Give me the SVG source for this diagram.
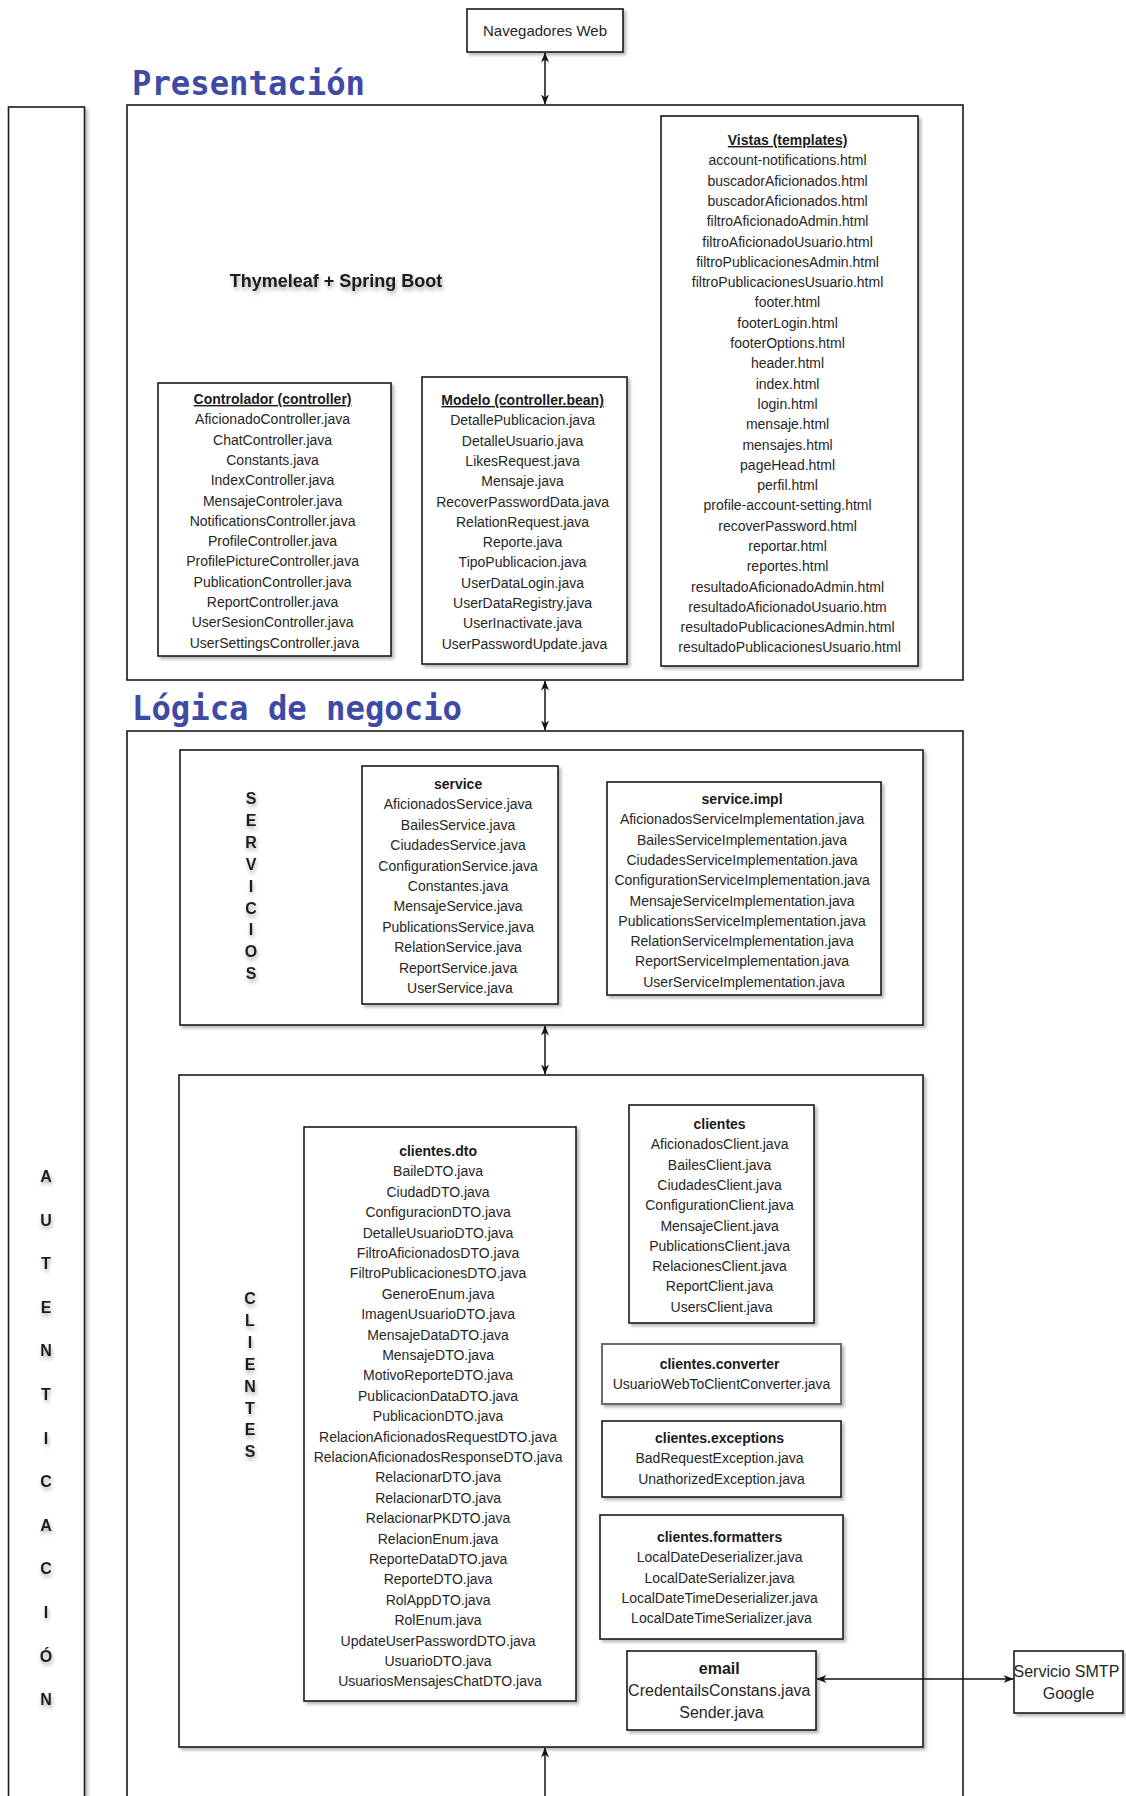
<svg xmlns="http://www.w3.org/2000/svg" width="1126" height="1796" viewBox="0 0 1126 1796">
  <style>
    .frame { fill: #ffffff; stroke: #1a1a1a; stroke-width: 1.6; }
    .box { fill: #ffffff; stroke: #1a1a1a; stroke-width: 1.6; filter: url(#shadow); }
    .gray { stroke: #6a6a6a; stroke-width: 2; }
    .item { font-family: "Liberation Sans", Arial, sans-serif; font-size: 14px; fill: #262626; text-anchor: middle; }
    .big { font-size: 16px; }
    .nav { font-size: 15px; }
    .stack { font-size: 18px; filter: url(#tshadow); }
    .head { font-weight: bold; fill: #1a1a1a; }
    .u { text-decoration: underline; }
    .layer { font-family: "DejaVu Sans Mono", monospace; font-weight: bold; font-size: 34px; fill: #3f4aa5; }
    .vert { font-family: "Liberation Sans", Arial, sans-serif; font-weight: bold; font-size: 16px; fill: #1e1e1e; text-anchor: middle; filter: url(#tshadow); }
    .conn { stroke: #111111; stroke-width: 1.5; fill: none; }
  </style>
  <defs>
    <filter id="shadow" x="-10%" y="-10%" width="130%" height="130%">
      <feDropShadow dx="2.5" dy="2.5" stdDeviation="1.5" flood-color="#000000" flood-opacity="0.28"/>
    </filter>
    <filter id="tshadow" x="-20%" y="-40%" width="140%" height="200%">
      <feDropShadow dx="1" dy="3" stdDeviation="2" flood-color="#000000" flood-opacity="0.35"/>
    </filter>
    <marker id="arrow" viewBox="0 0 10 10" refX="9.5" refY="5" markerWidth="10" markerHeight="10" markerUnits="userSpaceOnUse" orient="auto-start-reverse">
      <path d="M0,1 L10,5 L0,9 L3,5 z" fill="#111111"/>
    </marker>
  </defs>

  <rect width="1126" height="1796" fill="#ffffff"/>

  <!-- Authentication column spanning every layer -->
  <g id="autenticacion">
    <rect class="frame" x="8.5" y="107" width="76" height="1720" filter="url(#shadow)"/>
    <g class="vert">
      <text x="46" y="1182">A</text>
      <text x="46" y="1225.6">U</text>
      <text x="46" y="1269.2">T</text>
      <text x="46" y="1312.8">E</text>
      <text x="46" y="1356.4">N</text>
      <text x="46" y="1400">T</text>
      <text x="46" y="1443.6">I</text>
      <text x="46" y="1487.2">C</text>
      <text x="46" y="1530.8">A</text>
      <text x="46" y="1574.4">C</text>
      <text x="46" y="1618">I</text>
      <text x="46" y="1661.6">Ó</text>
      <text x="46" y="1705.2">N</text>
    </g>
  </g>

  <!-- Browsers -->
  <g id="navegadores">
    <rect class="box" x="467" y="9" width="156" height="43"/>
    <text class="item nav" x="545" y="36">Navegadores Web</text>
  </g>

  <!-- Presentation layer -->
  <g id="presentacion">
    <text class="layer" x="132" y="95" textLength="233" lengthAdjust="spacingAndGlyphs">Presentación</text>
    <rect class="frame" x="127" y="105" width="836" height="575"/>
    <text class="item head stack" x="336" y="287">Thymeleaf + Spring Boot</text>
  </g>

  <g id="vistas">
    <rect class="box" x="661" y="116" width="257" height="550"/>
    <text class="item" x="789.5" y="145">
      <tspan class="head u" x="789.5">Vistas (templates)</tspan>
      <tspan x="789.5" dy="20.3">account-notifications.html</tspan>
      <tspan x="789.5" dy="20.3">buscadorAficionados.html</tspan>
      <tspan x="789.5" dy="20.3">buscadorAficionados.html</tspan>
      <tspan x="789.5" dy="20.3">filtroAficionadoAdmin.html</tspan>
      <tspan x="789.5" dy="20.3">filtroAficionadoUsuario.html</tspan>
      <tspan x="789.5" dy="20.3">filtroPublicacionesAdmin.html</tspan>
      <tspan x="789.5" dy="20.3">filtroPublicacionesUsuario.html</tspan>
      <tspan x="789.5" dy="20.3">footer.html</tspan>
      <tspan x="789.5" dy="20.3">footerLogin.html</tspan>
      <tspan x="789.5" dy="20.3">footerOptions.html</tspan>
      <tspan x="789.5" dy="20.3">header.html</tspan>
      <tspan x="789.5" dy="20.3">index.html</tspan>
      <tspan x="789.5" dy="20.3">login.html</tspan>
      <tspan x="789.5" dy="20.3">mensaje.html</tspan>
      <tspan x="789.5" dy="20.3">mensajes.html</tspan>
      <tspan x="789.5" dy="20.3">pageHead.html</tspan>
      <tspan x="789.5" dy="20.3">perfil.html</tspan>
      <tspan x="789.5" dy="20.3">profile-account-setting.html</tspan>
      <tspan x="789.5" dy="20.3">recoverPassword.html</tspan>
      <tspan x="789.5" dy="20.3">reportar.html</tspan>
      <tspan x="789.5" dy="20.3">reportes.html</tspan>
      <tspan x="789.5" dy="20.3">resultadoAficionadoAdmin.html</tspan>
      <tspan x="789.5" dy="20.3">resultadoAficionadoUsuario.htm</tspan>
      <tspan x="789.5" dy="20.3">resultadoPublicacionesAdmin.html</tspan>
      <tspan x="789.5" dy="20.3">resultadoPublicacionesUsuario.html</tspan>
    </text>
  </g>

  <g id="controlador">
    <rect class="box" x="158" y="383" width="233" height="273"/>
    <text class="item" x="274.5" y="404">
      <tspan class="head u" x="274.5">Controlador (controller)</tspan>
      <tspan x="274.5" dy="20.3">AficionadoController.java</tspan>
      <tspan x="274.5" dy="20.3">ChatController.java</tspan>
      <tspan x="274.5" dy="20.3">Constants.java</tspan>
      <tspan x="274.5" dy="20.3">IndexController.java</tspan>
      <tspan x="274.5" dy="20.3">MensajeControler.java</tspan>
      <tspan x="274.5" dy="20.3">NotificationsController.java</tspan>
      <tspan x="274.5" dy="20.3">ProfileController.java</tspan>
      <tspan x="274.5" dy="20.3">ProfilePictureController.java</tspan>
      <tspan x="274.5" dy="20.3">PublicationController.java</tspan>
      <tspan x="274.5" dy="20.3">ReportController.java</tspan>
      <tspan x="274.5" dy="20.3">UserSesionController.java</tspan>
      <tspan x="274.5" dy="20.3">UserSettingsController.java</tspan>
    </text>
  </g>

  <g id="modelo">
    <rect class="box" x="422" y="377" width="205" height="287"/>
    <text class="item" x="524.5" y="405">
      <tspan class="head u" x="524.5">Modelo (controller.bean)</tspan>
      <tspan x="524.5" dy="20.3">DetallePublicacion.java</tspan>
      <tspan x="524.5" dy="20.3">DetalleUsuario.java</tspan>
      <tspan x="524.5" dy="20.3">LikesRequest.java</tspan>
      <tspan x="524.5" dy="20.3">Mensaje.java</tspan>
      <tspan x="524.5" dy="20.3">RecoverPasswordData.java</tspan>
      <tspan x="524.5" dy="20.3">RelationRequest.java</tspan>
      <tspan x="524.5" dy="20.3">Reporte.java</tspan>
      <tspan x="524.5" dy="20.3">TipoPublicacion.java</tspan>
      <tspan x="524.5" dy="20.3">UserDataLogin.java</tspan>
      <tspan x="524.5" dy="20.3">UserDataRegistry.java</tspan>
      <tspan x="524.5" dy="20.3">UserInactivate.java</tspan>
      <tspan x="524.5" dy="20.3">UserPasswordUpdate.java</tspan>
    </text>
  </g>

  <!-- Business logic layer -->
  <g id="logica">
    <text class="layer" x="132" y="720" textLength="330" lengthAdjust="spacingAndGlyphs">Lógica de negocio</text>
    <rect class="frame" x="127" y="731" width="836" height="1100"/>
  </g>

  <g id="servicios">
    <rect class="frame" x="180" y="750" width="743" height="275" filter="url(#shadow)"/>
    <g class="vert">
      <text x="251" y="804">S</text>
      <text x="251" y="825.9">E</text>
      <text x="251" y="847.8">R</text>
      <text x="251" y="869.7">V</text>
      <text x="251" y="891.6">I</text>
      <text x="251" y="913.5">C</text>
      <text x="251" y="935.4">I</text>
      <text x="251" y="957.3">O</text>
      <text x="251" y="979.2">S</text>
    </g>
  </g>

  <g id="service">
    <rect class="box" x="362" y="766" width="196" height="238"/>
    <text class="item" x="460" y="789">
      <tspan class="head" x="460">service</tspan>
      <tspan x="460" dy="20.4">AficionadosService.java</tspan>
      <tspan x="460" dy="20.4">BailesService.java</tspan>
      <tspan x="460" dy="20.4">CiudadesService.java</tspan>
      <tspan x="460" dy="20.4">ConfigurationService.java</tspan>
      <tspan x="460" dy="20.4">Constantes.java</tspan>
      <tspan x="460" dy="20.4">MensajeService.java</tspan>
      <tspan x="460" dy="20.4">PublicationsService.java</tspan>
      <tspan x="460" dy="20.4">RelationService.java</tspan>
      <tspan x="460" dy="20.4">ReportService.java</tspan>
      <tspan x="460" dy="20.4">UserService.java</tspan>
    </text>
  </g>

  <g id="service-impl">
    <rect class="box" x="607" y="782" width="274" height="213"/>
    <text class="item" x="744" y="804">
      <tspan class="head" x="744">service.impl</tspan>
      <tspan x="744" dy="20.3">AficionadosServiceImplementation.java</tspan>
      <tspan x="744" dy="20.3">BailesServiceImplementation.java</tspan>
      <tspan x="744" dy="20.3">CiudadesServiceImplementation.java</tspan>
      <tspan x="744" dy="20.3">ConfigurationServiceImplementation.java</tspan>
      <tspan x="744" dy="20.3">MensajeServiceImplementation.java</tspan>
      <tspan x="744" dy="20.3">PublicationsServiceImplementation.java</tspan>
      <tspan x="744" dy="20.3">RelationServiceImplementation.java</tspan>
      <tspan x="744" dy="20.3">ReportServiceImplementation.java</tspan>
      <tspan x="744" dy="20.3">UserServiceImplementation.java</tspan>
    </text>
  </g>

  <g id="clientes-capa">
    <rect class="frame" x="179" y="1075" width="744" height="672" filter="url(#shadow)"/>
    <g class="vert">
      <text x="250" y="1304">C</text>
      <text x="250" y="1325.9">L</text>
      <text x="250" y="1347.8">I</text>
      <text x="250" y="1369.7">E</text>
      <text x="250" y="1391.6">N</text>
      <text x="250" y="1413.5">T</text>
      <text x="250" y="1435.4">E</text>
      <text x="250" y="1457.3">S</text>
    </g>
  </g>

  <g id="clientes-dto">
    <rect class="box" x="304" y="1127" width="272" height="574"/>
    <text class="item" x="440" y="1156">
      <tspan class="head" x="440">clientes.dto</tspan>
      <tspan x="440" dy="20.4">BaileDTO.java</tspan>
      <tspan x="440" dy="20.4">CiudadDTO.java</tspan>
      <tspan x="440" dy="20.4">ConfiguracionDTO.java</tspan>
      <tspan x="440" dy="20.4">DetalleUsuarioDTO.java</tspan>
      <tspan x="440" dy="20.4">FiltroAficionadosDTO.java</tspan>
      <tspan x="440" dy="20.4">FiltroPublicacionesDTO.java</tspan>
      <tspan x="440" dy="20.4">GeneroEnum.java</tspan>
      <tspan x="440" dy="20.4">ImagenUsuarioDTO.java</tspan>
      <tspan x="440" dy="20.4">MensajeDataDTO.java</tspan>
      <tspan x="440" dy="20.4">MensajeDTO.java</tspan>
      <tspan x="440" dy="20.4">MotivoReporteDTO.java</tspan>
      <tspan x="440" dy="20.4">PublicacionDataDTO.java</tspan>
      <tspan x="440" dy="20.4">PublicacionDTO.java</tspan>
      <tspan x="440" dy="20.4">RelacionAficionadosRequestDTO.java</tspan>
      <tspan x="440" dy="20.4">RelacionAficionadosResponseDTO.java</tspan>
      <tspan x="440" dy="20.4">RelacionarDTO.java</tspan>
      <tspan x="440" dy="20.4">RelacionarDTO.java</tspan>
      <tspan x="440" dy="20.4">RelacionarPKDTO.java</tspan>
      <tspan x="440" dy="20.4">RelacionEnum.java</tspan>
      <tspan x="440" dy="20.4">ReporteDataDTO.java</tspan>
      <tspan x="440" dy="20.4">ReporteDTO.java</tspan>
      <tspan x="440" dy="20.4">RolAppDTO.java</tspan>
      <tspan x="440" dy="20.4">RolEnum.java</tspan>
      <tspan x="440" dy="20.4">UpdateUserPasswordDTO.java</tspan>
      <tspan x="440" dy="20.4">UsuarioDTO.java</tspan>
      <tspan x="440" dy="20.4">UsuariosMensajesChatDTO.java</tspan>
    </text>
  </g>

  <g id="clientes">
    <rect class="box" x="629" y="1105" width="185" height="218"/>
    <text class="item" x="721.5" y="1129">
      <tspan class="head" x="721.5">clientes</tspan>
      <tspan x="721.5" dy="20.3">AficionadosClient.java</tspan>
      <tspan x="721.5" dy="20.3">BailesClient.java</tspan>
      <tspan x="721.5" dy="20.3">CiudadesClient.java</tspan>
      <tspan x="721.5" dy="20.3">ConfigurationClient.java</tspan>
      <tspan x="721.5" dy="20.3">MensajeClient.java</tspan>
      <tspan x="721.5" dy="20.3">PublicationsClient.java</tspan>
      <tspan x="721.5" dy="20.3">RelacionesClient.java</tspan>
      <tspan x="721.5" dy="20.3">ReportClient.java</tspan>
      <tspan x="721.5" dy="20.3">UsersClient.java</tspan>
    </text>
  </g>

  <g id="clientes-converter">
    <rect class="box gray" x="602" y="1344" width="239" height="60"/>
    <text class="item" x="721.5" y="1369">
      <tspan class="head" x="721.5">clientes.converter</tspan>
      <tspan x="721.5" dy="20.3">UsuarioWebToClientConverter.java</tspan>
    </text>
  </g>

  <g id="clientes-exceptions">
    <rect class="box" x="602" y="1421" width="239" height="76"/>
    <text class="item" x="721.5" y="1443">
      <tspan class="head" x="721.5">clientes.exceptions</tspan>
      <tspan x="721.5" dy="20.3">BadRequestException.java</tspan>
      <tspan x="721.5" dy="20.3">UnathorizedException.java</tspan>
    </text>
  </g>

  <g id="clientes-formatters">
    <rect class="box" x="600" y="1515" width="243" height="124"/>
    <text class="item" x="721.5" y="1542">
      <tspan class="head" x="721.5">clientes.formatters</tspan>
      <tspan x="721.5" dy="20.3">LocalDateDeserializer.java</tspan>
      <tspan x="721.5" dy="20.3">LocalDateSerializer.java</tspan>
      <tspan x="721.5" dy="20.3">LocalDateTimeDeserializer.java</tspan>
      <tspan x="721.5" dy="20.3">LocalDateTimeSerializer.java</tspan>
    </text>
  </g>

  <g id="email">
    <rect class="box" x="627" y="1651" width="189" height="79"/>
    <text class="item big" x="721.5" y="1674">
      <tspan class="head" x="721.5">email</tspan>
      <tspan x="721.5" dy="22">CredentailsConstans.java</tspan>
      <tspan x="721.5" dy="22">Sender.java</tspan>
    </text>
  </g>

  <g id="smtp-google">
    <rect class="box" x="1014" y="1651" width="109" height="62"/>
    <text class="item big" x="1068.5" y="1677">
      <tspan x="1068.5">Servicio SMTP</tspan>
      <tspan x="1068.5" dy="22">Google</tspan>
    </text>
  </g>

  <!-- Connectors -->
  <g id="conectores">
    <line class="conn" x1="545" y1="53" x2="545" y2="104" marker-start="url(#arrow)" marker-end="url(#arrow)"/>
    <line class="conn" x1="545" y1="681" x2="545" y2="730" marker-start="url(#arrow)" marker-end="url(#arrow)"/>
    <line class="conn" x1="545" y1="1026" x2="545" y2="1074" marker-start="url(#arrow)" marker-end="url(#arrow)"/>
    <line class="conn" x1="545" y1="1800" x2="545" y2="1748" marker-end="url(#arrow)"/>
    <line class="conn" x1="817" y1="1679" x2="1013" y2="1679" marker-start="url(#arrow)" marker-end="url(#arrow)"/>
  </g>
</svg>
